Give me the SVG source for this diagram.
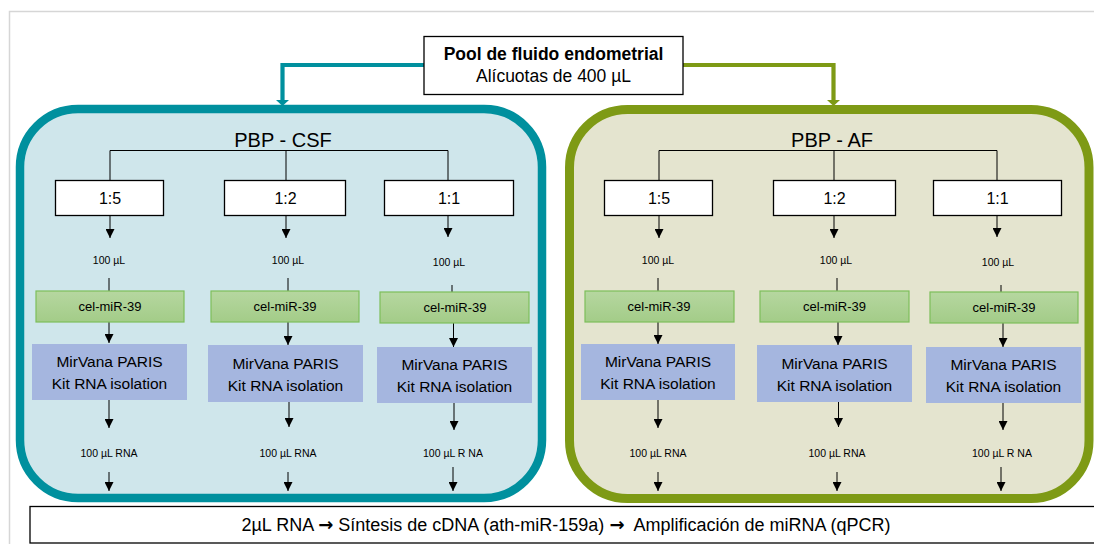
<svg xmlns="http://www.w3.org/2000/svg" width="1094" height="544" viewBox="0 0 1094 544">
<defs>
<marker id="ah" viewBox="0 0 10 10" refX="10" refY="5" markerWidth="9" markerHeight="9" markerUnits="userSpaceOnUse" orient="auto">
<path d="M0,0 L10,5 L0,10 z" fill="#000"/>
</marker>
<linearGradient id="gcel" x1="0" y1="0" x2="0" y2="1">
<stop offset="0" stop-color="#B6D7A0"/>
<stop offset="1" stop-color="#A3CC88"/>
</linearGradient>
<style>
text{font-family:"Liberation Sans",Arial,sans-serif;fill:#000;text-anchor:middle}
.t{font-size:20px}
.ratio{fill:#fff;stroke:#000;stroke-width:1.3}
.rt{font-size:16px}
.sm{font-size:10.5px}
.cel{fill:url(#gcel);stroke:#7DBE5A;stroke-width:1.2}
.ct{font-size:13px}
.mv{fill:#A5B6DF}
.mt{font-size:15.5px}
.ln{stroke:#000;stroke-width:1;fill:none}
.ar{stroke:#000;stroke-width:1;fill:none;marker-end:url(#ah)}
.arw{font-family:"DejaVu Sans",sans-serif;font-weight:bold}
</style>
</defs>
<rect width="1094" height="544" fill="#fff"/>
<path d="M9.5,544 V11.5 H1094" fill="none" stroke="#D6D6D6" stroke-width="1.5"/>

<g id="csf-panel">
<rect x="20" y="109" width="522" height="389" rx="58" fill="#CFE6EB" stroke="#00909E" stroke-width="8.5"/>
<text class="t" x="283" y="147">PBP - CSF</text>
</g>
<g id="af-panel">
<rect x="569.5" y="109.5" width="519.5" height="389" rx="58" fill="#E4E4CF" stroke="#7E9A15" stroke-width="9"/>
<text class="t" x="832" y="147">PBP - AF</text>
</g>

<g id="connectors">
<path d="M424,65 H282.5 V103" fill="none" stroke="#00909E" stroke-width="4.2"/>
<path d="M276,100 L289,100 L282.5,106 z" fill="#00909E"/>
<path d="M683,65 H833.5 V103" fill="none" stroke="#7E9A15" stroke-width="4.2"/>
<path d="M827,100 L840,100 L833.5,106 z" fill="#7E9A15"/>

<path class="ln" d="M110,180 V150.5 H448 V180 M286,150.5 V180"/>
<path class="ln" d="M659,180 V150.5 H997 V180 M834,150.5 V180"/>

<path class="ar" d="M110,216 V238"/>
<path class="ar" d="M286,216 V238"/>
<path class="ar" d="M448,216 V237"/>
<path class="ar" d="M659,216 V238"/>
<path class="ar" d="M834,216 V238"/>
<path class="ar" d="M997,216 V237"/>

<path class="ln" d="M109,278 V291 M288,278 V291 M452,285 V292 M658,278 V291 M837,278 V291 M1001,285 V292"/>

<path class="ar" d="M109,322 V343"/>
<path class="ar" d="M288,322 V345"/>
<path class="ar" d="M453.5,323 V347"/>
<path class="ar" d="M658,322 V344"/>
<path class="ar" d="M838,322 V345"/>
<path class="ar" d="M1003,323 V347"/>

<path class="ar" d="M109,400 V428"/>
<path class="ar" d="M289,402 V427"/>
<path class="ar" d="M454,403 V430"/>
<path class="ar" d="M658,400 V428"/>
<path class="ar" d="M838.5,402 V427"/>
<path class="ar" d="M1003,403 V430"/>

<path class="ar" d="M109,472 V491"/>
<path class="ar" d="M288,472 V491"/>
<path class="ar" d="M453,467 V491"/>
<path class="ar" d="M658,472 V491"/>
<path class="ar" d="M837,472 V491"/>
<path class="ar" d="M1001,467 V491"/>
</g>

<g id="pool">
<rect x="424" y="36.5" width="259" height="58" fill="#fff" stroke="#000" stroke-width="1.3"/>
<text x="553.5" y="59.5" style="font-size:17.5px;font-weight:bold">Pool de fluido endometrial</text>
<text x="553.5" y="82" style="font-size:17.5px">Alícuotas de 400 µL</text>
</g>

<g id="csf-1-5">
<rect class="ratio" x="55.5" y="180.5" width="108" height="35"/>
<text class="rt" x="110" y="204">1:5</text>
<text class="sm" x="109" y="264">100 µL</text>
<rect class="cel" x="36" y="291" width="148" height="31"/>
<text class="ct" x="110" y="311">cel-miR-39</text>
<rect class="mv" x="32" y="344" width="155" height="56"/>
<text class="mt" x="109.5" y="367">MirVana PARIS</text>
<text class="mt" x="109.5" y="389">Kit RNA isolation</text>
<text class="sm" x="109" y="457">100 µL RNA</text>
</g>
<g id="csf-1-2">
<rect class="ratio" x="224.5" y="180.5" width="121" height="35"/>
<text class="rt" x="285.5" y="204">1:2</text>
<text class="sm" x="288" y="264">100 µL</text>
<rect class="cel" x="211" y="291" width="148" height="31"/>
<text class="ct" x="285" y="311">cel-miR-39</text>
<rect class="mv" x="208" y="345" width="155" height="57"/>
<text class="mt" x="285.5" y="369">MirVana PARIS</text>
<text class="mt" x="285.5" y="391">Kit RNA isolation</text>
<text class="sm" x="288" y="457">100 µL RNA</text>
</g>
<g id="csf-1-1">
<rect class="ratio" x="384.5" y="180.5" width="129" height="35"/>
<text class="rt" x="449" y="204">1:1</text>
<text class="sm" x="449" y="266">100 µL</text>
<rect class="cel" x="380" y="292" width="149" height="31"/>
<text class="ct" x="455" y="312">cel-miR-39</text>
<rect class="mv" x="377" y="347" width="155" height="56"/>
<text class="mt" x="454.5" y="370">MirVana PARIS</text>
<text class="mt" x="454.5" y="392">Kit RNA isolation</text>
<text class="sm" x="453" y="457">100 µL R NA</text>
</g>

<g id="af-1-5">
<rect class="ratio" x="604.5" y="180.5" width="108" height="35"/>
<text class="rt" x="659" y="204">1:5</text>
<text class="sm" x="658" y="264">100 µL</text>
<rect class="cel" x="585" y="291" width="149" height="31"/>
<text class="ct" x="659" y="311">cel-miR-39</text>
<rect class="mv" x="581" y="344" width="154" height="56"/>
<text class="mt" x="658" y="367">MirVana PARIS</text>
<text class="mt" x="658" y="389">Kit RNA isolation</text>
<text class="sm" x="658" y="457">100 µL RNA</text>
</g>
<g id="af-1-2">
<rect class="ratio" x="773.5" y="180.5" width="122" height="35"/>
<text class="rt" x="834.5" y="204">1:2</text>
<text class="sm" x="836" y="264">100 µL</text>
<rect class="cel" x="760" y="291" width="149" height="31"/>
<text class="ct" x="834.5" y="311">cel-miR-39</text>
<rect class="mv" x="757" y="345" width="155" height="57"/>
<text class="mt" x="834.5" y="369">MirVana PARIS</text>
<text class="mt" x="834.5" y="391">Kit RNA isolation</text>
<text class="sm" x="837" y="457">100 µL RNA</text>
</g>
<g id="af-1-1">
<rect class="ratio" x="933.5" y="180.5" width="128" height="35"/>
<text class="rt" x="997.5" y="204">1:1</text>
<text class="sm" x="998" y="266">100 µL</text>
<rect class="cel" x="930" y="292" width="148" height="31"/>
<text class="ct" x="1004" y="312">cel-miR-39</text>
<rect class="mv" x="926" y="347" width="155" height="56"/>
<text class="mt" x="1003.5" y="370">MirVana PARIS</text>
<text class="mt" x="1003.5" y="392">Kit RNA isolation</text>
<text class="sm" x="1002" y="457">100 µL R NA</text>
</g>

<g id="qpcr">
<rect x="30" y="506.5" width="1070" height="36.5" fill="#fff" stroke="#000" stroke-width="1.3"/>
<text x="566" y="531" style="font-size:18px">2µL RNA <tspan class="arw">→</tspan> Síntesis de cDNA (ath-miR-159a) <tspan class="arw">→</tspan>&#160; Amplificación de miRNA (qPCR)</text>
</g>
</svg>
